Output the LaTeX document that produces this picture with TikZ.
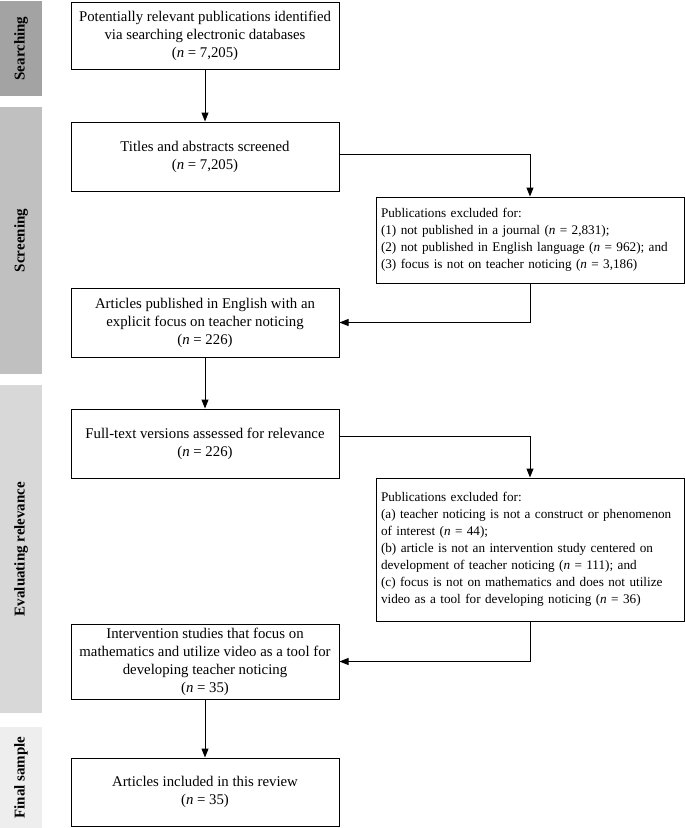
\documentclass[tikz,border=0pt]{standalone}
\usepackage{fontspec}
\setmainfont{Liberation Serif}
\usetikzlibrary{arrows.meta,calc}
\definecolor{sideA}{RGB}{163,163,163}
\definecolor{sideB}{RGB}{192,192,192}
\definecolor{sideC}{RGB}{216,216,216}
\definecolor{sideD}{RGB}{238,238,238}
\tikzset{
  mainbox/.style={draw, line width=1pt, minimum width=268pt, inner sep=0pt, align=center, font=\fontsize{14.8}{18}\selectfont},
  exclbox/.style={draw, line width=1pt, minimum width=308pt, text width=298pt, inner sep=0pt, align=left, font=\fontsize{13.2}{17}\selectfont},
  sidebar/.style={rotate=90, minimum height=42pt, inner sep=0pt, font=\fontsize{15}{17}\selectfont\bfseries},
  conn/.style={line width=1pt, -{Triangle[length=9pt,width=7pt]}}
}
\begin{document}
\begin{tikzpicture}[x=1pt,y=-1pt]
\useasboundingbox (0,0) rectangle (685,828);
% sidebars
\node[sidebar, fill=sideA, minimum width=95pt] (s1) at (21,48.5) {Searching};
\node[sidebar, fill=sideB, minimum width=267pt] (s2) at (21,240.5) {Screening};
\node[sidebar, fill=sideC, minimum width=328pt] (s3) at (21,549) {Evaluating relevance};
\node[sidebar, fill=sideD, minimum width=101pt] (s4) at (21,777.5) {Final sample};
% main boxes
\node[mainbox, minimum height=67pt] (b1) at (205,35.5) {Potentially relevant publications identified\\via searching electronic databases\\(\textit{n} = 7,205)};
\node[mainbox, minimum height=69pt] (b2) at (205,156.5) {Titles and abstracts screened\\(\textit{n} = 7,205)};
\node[mainbox, minimum height=69pt] (b3) at (205,322.5) {Articles published in English with an\\explicit focus on teacher noticing\\(\textit{n} = 226)};
\node[mainbox, minimum height=69pt] (b4) at (205,443.5) {Full-text versions assessed for relevance\\(\textit{n} = 226)};
\node[mainbox, minimum height=75pt] (b5) at (205,661.5) {Intervention studies that focus on\\mathematics and utilize video as a tool for\\developing teacher noticing\\(\textit{n} = 35)};
\node[mainbox, minimum height=68pt] (b6) at (205,792) {Articles included in this review\\(\textit{n} = 35)};
% exclusion boxes
\node[exclbox, minimum height=86pt] (e1) at (530,240) {Publications excluded for:\\(1) not published in a journal (\textit{n} = 2,831);\\(2) not published in English language (\textit{n} = 962); and\\(3) focus is not on teacher noticing (\textit{n} = 3,186)};
\node[exclbox, minimum height=143pt] (e2) at (530,549.5) {Publications excluded for:\\(a) teacher noticing is not a construct or phenomenon\\of interest (\textit{n} = 44);\\(b) article is not an intervention study centered on\\development of teacher noticing (\textit{n} = 111); and\\(c) focus is not on mathematics and does not utilize\\video as a tool for developing noticing (\textit{n} = 36)};
% connectors
\draw[conn] (b1.south) -- (b2.north);
\draw[conn] ([yshift=2.5pt]b2.east) -| (e1.north);
\draw[conn] (e1.south) |- (b3.east);
\draw[conn] (b3.south) -- (b4.north);
\draw[conn] ([yshift=7.5pt]b4.east) -| (e2.north);
\draw[conn] (e2.south) |- (b5.east);
\draw[conn] (b5.south) -- (b6.north);
\end{tikzpicture}
\end{document}
